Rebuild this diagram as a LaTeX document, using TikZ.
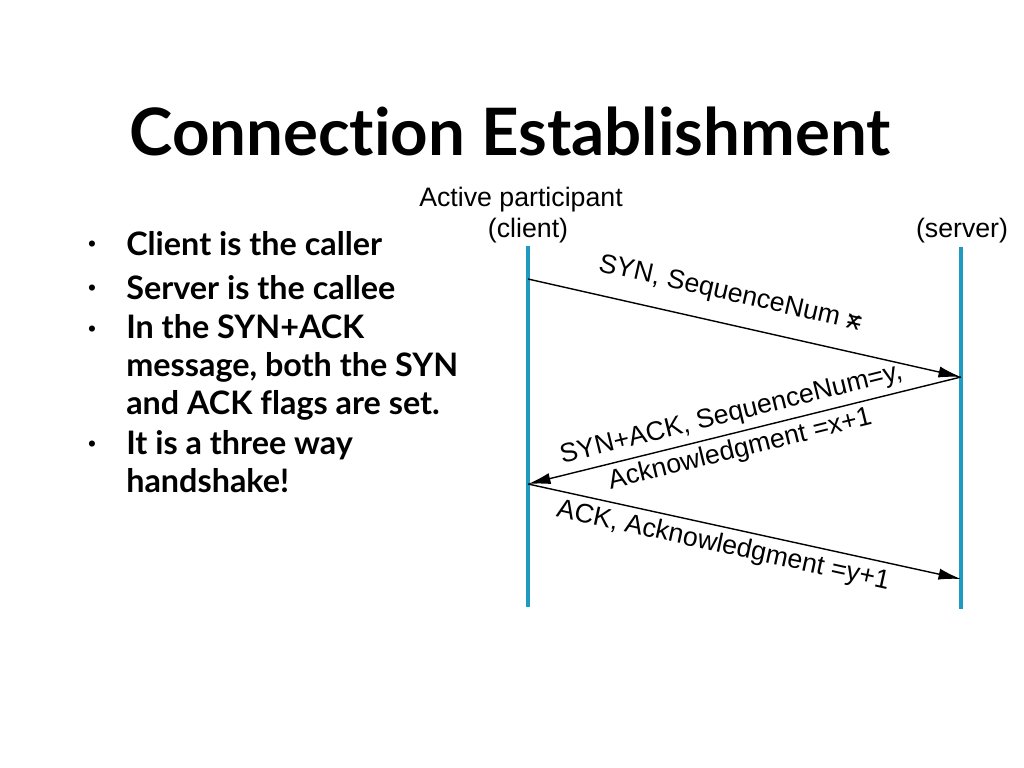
\documentclass[tikz,border=0pt]{standalone}
\usepackage{fontspec}
\setmainfont{Liberation Sans}
\newfontfamily\slidefont[Ligatures=NoCommon]{Lato}
\usepackage{tikz}
\usetikzlibrary{arrows.meta,positioning}
\definecolor{lifeline}{RGB}{31,155,194}

\begin{document}
\begin{tikzpicture}[
    x=0.025cm, y=-0.025cm,
    >={Latex[length=16pt,width=8pt]},
    every node/.style={inner sep=0pt},
    title/.style={font=\slidefont\bfseries\fontsize{46.5pt}{52pt}\selectfont},
    point/.style={anchor=base west, align=left,
      font=\slidefont\bfseries\fontsize{23pt}{26.7pt}\selectfont},
    dot/.style={font=\fontsize{16pt}{18pt}\selectfont},
    party/.style={font=\fontsize{19pt}{22pt}\selectfont},
    msg/.style={font=\fontsize{19pt}{26pt}\selectfont, align=center},
    life/.style={draw=lifeline, line width=2.4pt},
    arrow/.style={->, line width=1pt}
  ]
    \useasboundingbox (0,0) rectangle (1024,768);

    % Title
    \node[title, anchor=base] (ttl) at (510,156) {Connection Establishment};

    % Bullet points (anchored at the last line)
    \node[dot] (b1) at (92,246) {\textbullet};
    \node[point] (p1) at (126,255) {Client is the caller};
    \node[dot] (b2) at (92,290) {\textbullet};
    \node[point] (p2) at (126,299) {Server is the callee};
    \node[dot] (b3) at (92,331) {\textbullet};
    \node[point] (p3) at (126,414) {In the SYN+ACK\\message, both the SYN\\and ACK flags are set.};
    \node[dot] (b4) at (92,446) {\textbullet};
    \node[point] (p4) at (126,492) {It is a three way\\handshake!};

    % Participants
    \node[party, anchor=base] (act) at (521,206) {Active participant};
    \node[party, anchor=base] (cli) at (528,237) {(client)};
    \node[party, anchor=base] (srv) at (962,237) {(server)};

    % Lifelines
    \coordinate (ctop) at (528,246);
    \coordinate (cbot) at (528,607);
    \coordinate (stop) at (961,247);
    \coordinate (sbot) at (961,609);
    \draw[life] (ctop) -- (cbot);
    \draw[life] (stop) -- (sbot);

    % Messages
    \coordinate (c1) at (528,279);
    \coordinate (s1) at (961,377);
    \coordinate (c2) at (528,484);
    \coordinate (s2) at (961,579);
    \draw[arrow] (c1) -- (s1)
      node[msg, pos=0.45, sloped, above=12pt] (m1) {SYN, SequenceNum \rlap{=}x};
    \draw[arrow] (s1) -- (c2)
      node[msg, pos=0.52, sloped] (m2) {SYN+ACK, SequenceNum=y,\\Acknowledgment =x+1};
    \draw[arrow] (c2) -- (s2)
      node[msg, pos=0.46, sloped, below=4pt] (m3) {ACK, Acknowledgment =y+1};

  \end{tikzpicture}
\end{document}
